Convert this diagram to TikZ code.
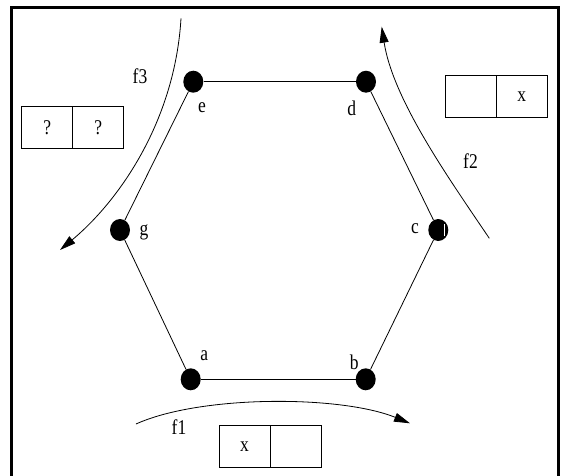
\documentclass[tikz,border=0pt]{standalone}
\usepackage{fontspec}
\usepackage{graphicx}
\setmainfont{Liberation Serif}
\usetikzlibrary{shapes.geometric,arrows.meta}
\newcommand{\tallt}[1]{\scalebox{1}[1.2]{#1}}
\begin{document}
\begin{tikzpicture}[x=1pt,y=-1pt,
  dot/.style={ellipse,fill=black,draw=none,minimum width=20pt,minimum height=22pt,inner sep=0pt},
  lbl/.style={inner sep=0pt,font=\fontsize{17.5}{21}\selectfont},
  cell/.style={draw,line width=0.8pt,minimum width=51pt,minimum height=42pt,inner sep=0pt,font=\fontsize{17.5}{21}\selectfont},
  edge/.style={line width=0.8pt},
  flow/.style={line width=0.8pt,-{Triangle[length=16pt,width=9pt]}}]
\useasboundingbox (0,0) rectangle (563,475);
\clip (0,0) rectangle (563,475);
\fill[white] (0,0) rectangle (563,475);
\draw[line width=3pt] (11.7,7.3) rectangle (558.3,490);
% hexagon vertices
\node[dot] (e) at (193.3,81.7) {};
\node[dot] (d) at (366,81.7) {};
\node[dot] (c) at (438.3,230) {};
\node[dot] (b) at (365.7,379.3) {};
\node[dot] (a) at (190.7,379.3) {};
\node[dot] (g) at (120,230) {};
\draw[edge] (e) -- (d);
\draw[edge] (d) -- (c);
\draw[edge] (c) -- (b);
\draw[edge] (b) -- (a);
\draw[edge] (a) -- (g);
\draw[edge] (g) -- (e);
\draw[white,line width=0.9pt] ([xshift=6.5pt,yshift=-6pt]c.center) -- ([xshift=6.5pt,yshift=6pt]c.center);
% vertex labels
\node[lbl] (le) at (202,108) {\tallt{e}};
\node[lbl] (ld) at (351.7,108) {\tallt{d}};
\node[lbl] (lc) at (415,229) {\tallt{c}};
\node[lbl] (lg) at (144,232) {\tallt{g}};
\node[lbl] (la) at (204.3,356) {\tallt{a}};
\node[lbl] (lb) at (354.3,362) {\tallt{b}};
% flows
\coordinate (f3s) at (181,18.3);
\coordinate (f3e) at (60,250);
\draw[flow] (f3s) .. controls (175,120) and (120,200) .. (f3e);
\coordinate (f2s) at (489.3,238.3);
\coordinate (f2e) at (381.7,26.7);
\draw[flow] (f2s) .. controls (450,180) and (393,100) .. (f2e);
\coordinate (f1s) at (136,424);
\coordinate (f1e) at (410,423.3);
\draw[flow] (f1s) .. controls (200,395) and (340,395) .. (f1e);
\node[lbl] (lf3) at (140,76.7) {\tallt{f3}};
\node[lbl] (lf2) at (470.5,161.3) {\tallt{f2}};
\node[lbl] (lf1) at (179,426.7) {\tallt{f1}};
% boxes
\node[cell] (l1) at (47.2,127.8) {\tallt{?}};
\node[cell] (l2) at (98.2,127.8) {\tallt{?}};
\node[cell] (r1) at (470.7,96.2) {};
\node[cell] (r2) at (521.7,96.2) {\tallt{x}};
\node[cell] (b1) at (244.6,446.7) {\tallt{x}};
\node[cell] (b2) at (295.6,446.7) {};
\end{tikzpicture}
\end{document}
